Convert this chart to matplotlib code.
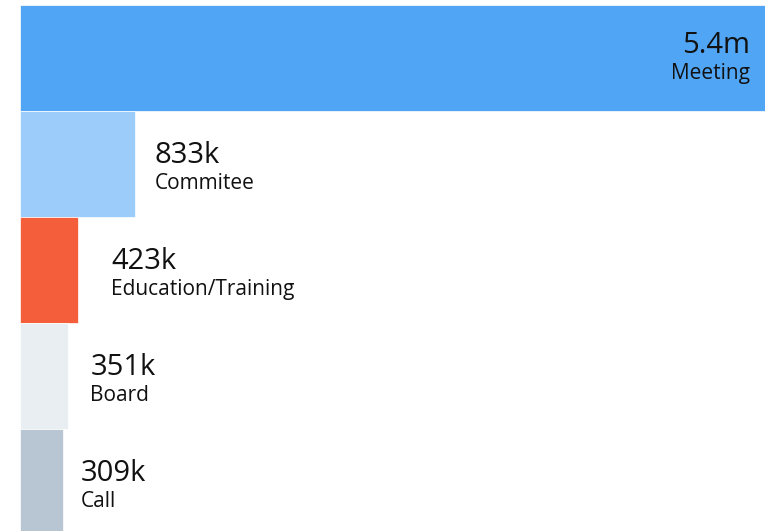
import matplotlib
matplotlib.use("Agg")
import matplotlib.pyplot as plt
from matplotlib.transforms import offset_copy

categories = ["Meeting", "Commitee", "Education/Training", "Board", "Call"]
values = [5_400_000, 833_000, 423_000, 351_000, 309_000]
value_labels = ["5.4m", "833k", "423k", "351k", "309k"]
colors = ["#50a5f5", "#9ccdfa", "#f45e3a", "#e8eef1", "#b8c5d3"]

plt.rcParams['font.family'] = ['Open Sans', 'DejaVu Sans']

W, H = 765, 531
fig = plt.figure(figsize=(W / 100, H / 100), dpi=100)
ax = fig.add_axes([20 / W, -4 / H, 745 / W, 530 / H])
ypos = list(range(len(categories)))
ax.barh(ypos, values, height=1.0, color=colors, edgecolor="white", linewidth=0.5)
ax.set_xlim(0, max(values))
ax.set_ylim(len(categories) - 0.5, -0.5)
ax.axis("off")

# label x offsets in pixels (from bar end)
x_offsets = [-15, 20, 33, 22, 18]
for i, (v, vl, cat) in enumerate(zip(values, value_labels, categories)):
    ha = "right" if i == 0 else "left"
    dy_val = 5 if i == 0 else 1
    dy_lab = -21 if i == 0 else -25
    tr_val = offset_copy(ax.transData, fig=fig, x=x_offsets[i] * 0.72, y=dy_val * 0.72, units="points")
    tr_lab = offset_copy(ax.transData, fig=fig, x=x_offsets[i] * 0.72, y=dy_lab * 0.72, units="points")
    ax.text(v, i, vl, transform=tr_val, ha=ha, va="baseline", fontsize=21, color="#111111")
    ax.text(v, i, cat, transform=tr_lab, ha=ha, va="baseline", fontsize=15, color="#111111")

fig.savefig("out.png", dpi=100)
